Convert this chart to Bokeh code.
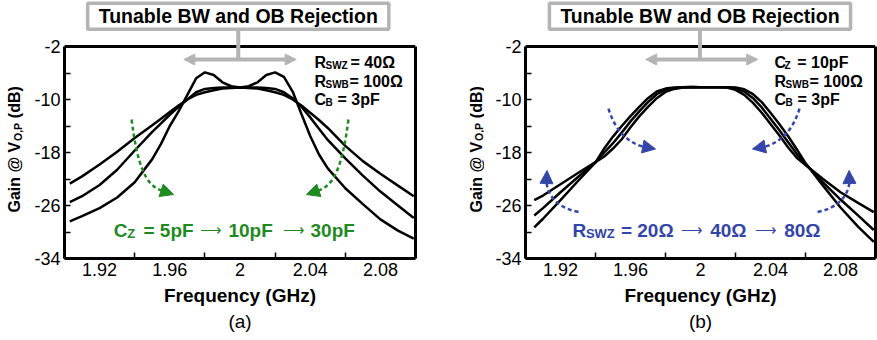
from math import pi

from bokeh.plotting import figure
from bokeh.layouts import row
from bokeh.models import (FixedTicker, Label, Arrow, NormalHead, Range1d,
                          LinearAxis, Span, Title)
from bokeh.embed import file_html
from bokeh.resources import INLINE

# ---------------------------------------------------------------- data
# (a) gain vs frequency for three values of C_Z (R_SWZ = 40 ohm)
freq_a = [1.903, 1.91, 1.92, 1.93, 1.94, 1.95, 1.955, 1.96, 1.965, 1.97, 1.975,
          1.98, 1.985, 1.99, 1.995, 2.0, 2.005, 2.01, 2.015, 2.02, 2.025, 2.03,
          2.035, 2.04, 2.045, 2.05, 2.06, 2.07, 2.08, 2.09, 2.099]
gain_cz_5pF = [-22.7, -21.6, -19.8, -17.9, -15.8, -13.9, -12.9, -11.9, -10.9, -10.0, -9.3,
               -8.9, -8.6, -8.35, -8.25, -8.2, -8.25, -8.35, -8.6, -8.9, -9.3, -10.0,
               -10.9, -12.0, -13.1, -14.3, -17.0, -19.3, -21.2, -23.0, -24.6]
gain_cz_10pF = [-25.5, -24.6, -22.9, -20.6, -17.7, -14.9, -13.6, -12.3, -11.1, -10.0, -8.9,
                -8.4, -8.25, -8.2, -8.2, -8.2, -8.2, -8.2, -8.25, -8.4, -8.9, -9.8,
                -11.1, -12.7, -14.4, -16.1, -18.9, -21.5, -23.9, -26.0, -27.9]
gain_cz_30pF = [-28.4, -27.6, -26.4, -24.8, -22.5, -19.0, -16.7, -14.0, -11.8, -9.3, -6.8,
                -5.9, -6.3, -7.4, -8.0, -8.2, -8.0, -7.4, -6.3, -5.9, -6.6, -8.8,
                -12.2, -15.5, -18.3, -20.4, -23.4, -25.8, -28.1, -29.8, -31.0]

# (b) gain vs frequency for three values of R_SWZ (C_Z = 10 pF)
freq_b = [1.905, 1.91, 1.92, 1.93, 1.94, 1.945, 1.95, 1.955, 1.96, 1.965, 1.97,
          1.975, 1.98, 1.985, 1.99, 1.995, 2.0, 2.005, 2.01, 2.015, 2.02, 2.025,
          2.03, 2.035, 2.04, 2.045, 2.05, 2.055, 2.06, 2.07, 2.08, 2.09, 2.099]
gain_rswz_20 = [-29.3, -28.0, -25.2, -22.3, -19.5, -17.4, -15.6, -14.0, -12.5, -11.1, -9.8,
                -8.8, -8.35, -8.2, -8.15, -8.1, -8.15, -8.15, -8.15, -8.15, -8.2, -8.45,
                -9.2, -10.4, -12.0, -13.7, -15.5, -17.5, -19.6, -23.0, -26.3, -29.2, -31.5]
gain_rswz_40 = [-27.5, -26.4, -24.0, -21.7, -19.47, -18.0, -16.6, -15.0, -13.3, -11.8, -10.4,
                -9.2, -8.5, -8.25, -8.15, -8.1, -8.15, -8.15, -8.15, -8.15, -8.3, -8.8,
                -9.8, -11.2, -12.9, -14.6, -16.4, -18.2, -19.75, -22.5, -25.1, -27.5, -29.7]
gain_rswz_80 = [-25.2, -24.5, -22.8, -21.1, -19.45, -18.6, -17.4, -16.0, -14.2, -12.55, -11.1,
                -9.8, -8.85, -8.4, -8.2, -8.15, -8.15, -8.15, -8.15, -8.2, -8.55, -9.3,
                -10.5, -12.0, -13.7, -15.4, -17.2, -18.8, -19.9, -22.0, -24.0, -25.6, -27.0]

# axis ticks
x_major = [1.92, 1.96, 2.0, 2.04, 2.08]
x_labels = ["1.92", "1.96", "2", "2.04", "2.08"]
x_minor = [1.90, 1.94, 1.98, 2.02, 2.06, 2.10]
y_major = [-34, -26, -18, -10, -2]
y_labels = ["-34", "-26", "-18", "-10", "-2"]
y_minor = [-30, -22, -14, -6]

# ---------------------------------------------------------------- style
FONT = "Liberation Sans"
GREEN = "#1f8a1f"
BLUE = "#3445a8"
GRAY = "#b4b4b4"
X_RANGE = (1.90, 2.10)
Y_RANGE = (-34, -2)
PX_PER_DB = 212 / (Y_RANGE[1] - Y_RANGE[0])
HEADROOM_DB = 46 / PX_PER_DB          # space above the plot box for the callout
Y_VIEW = (Y_RANGE[0], Y_RANGE[1] + HEADROOM_DB)
PAGE_H = 340


def make_panel(width, border_left, border_right):
    p = figure(width=width, height=PAGE_H,
               x_range=Range1d(*X_RANGE), y_range=Range1d(*Y_VIEW),
               output_backend="svg", toolbar_location=None,
               min_border_left=border_left, min_border_right=border_right,
               min_border_top=0, min_border_bottom=82)
    p.grid.visible = False
    p.background_fill_color = "white"
    p.border_fill_color = "white"
    p.outline_line_color = None

    xa = p.xaxis[0]
    xa.ticker = FixedTicker(ticks=x_major, minor_ticks=x_minor)
    xa.major_label_overrides = dict(zip(x_major, x_labels))
    xa.major_tick_in = 0
    xa.major_tick_out = 0
    xa.minor_tick_in = 6
    xa.minor_tick_out = 0
    xa.minor_tick_line_width = 1.5
    xa.axis_label = "Frequency (GHz)"
    xa.axis_label_text_font = FONT
    xa.axis_label_text_font_style = "bold"
    xa.axis_label_text_font_size = "19px"
    xa.axis_label_text_color = "black"
    xa.axis_label_standoff = 6

    ya = p.yaxis[0]
    ya.bounds = Y_RANGE
    ya.ticker = FixedTicker(ticks=y_major, minor_ticks=y_minor)
    ya.major_label_overrides = dict(zip(y_major, y_labels))
    ya.major_tick_in = 6
    ya.major_tick_out = 0
    ya.minor_tick_in = 6
    ya.minor_tick_out = 0
    ya.major_tick_line_width = 1.5
    ya.minor_tick_line_width = 1.5

    for ax in (xa, ya):
        ax.axis_line_width = 3
        ax.axis_line_color = "black"
        ax.major_label_text_font = FONT
        ax.major_label_text_font_size = "18px"
        ax.major_label_text_color = "black"
        ax.major_label_standoff = 4

    # right and top edges of the plot box
    right = LinearAxis(bounds=Y_RANGE, ticker=FixedTicker(ticks=[]),
                       major_tick_in=0, major_tick_out=0, minor_tick_in=0,
                       minor_tick_out=0, major_label_standoff=0,
                       axis_line_width=3, axis_line_color="black")
    p.add_layout(right, "right")
    p.add_layout(Span(location=Y_RANGE[1], dimension="width",
                      line_color="black", line_width=3))
    return p


def make_strip(width):
    # narrow canvas left of a panel that carries the rotated y title;
    # x in pixels, y shares the panel's dB scale
    s = figure(width=width, height=PAGE_H, x_range=Range1d(0, width),
               y_range=Range1d(*Y_VIEW), output_backend="svg",
               toolbar_location=None, x_axis_type=None, y_axis_type=None,
               min_border_left=0, min_border_right=0,
               min_border_top=0, min_border_bottom=82)
    s.grid.visible = False
    s.outline_line_color = None
    s.background_fill_color = "white"
    s.border_fill_color = "white"
    return s


def note(p, x, y, text, size, color="black", bold=True, align="left",
         baseline="middle", angle=0.0, **kw):
    p.add_layout(Label(x=x, y=y, text=text, text_font=FONT,
                       text_font_size=f"{size}px",
                       text_font_style="bold" if bold else "normal",
                       text_color=color, text_align=align,
                       text_baseline=baseline, angle=angle, **kw))


def rich(p, y, pieces, color="black", sub_drop=0.45):
    """pieces: (x, text, size, is_subscript)"""
    for x, text, size, is_sub in pieces:
        note(p, x, y - sub_drop if is_sub else y, text, size, color=color)


def banner(p, xc):
    # gray callout box, its stem and the double arrow
    note(p, xc, 2.55, "Tunable BW and OB Rejection", 19.5, align="center",
         background_fill_color="white", border_line_color=GRAY,
         border_line_width=3.5, padding=dict(left=11, right=11, top=2, bottom=2))
    p.add_layout(Arrow(end=None, x_start=xc, y_start=0.35, x_end=xc, y_end=-3.96,
                       line_color=GRAY, line_width=4))
    p.add_layout(Arrow(start=NormalHead(size=11, fill_color=GRAY, line_color=GRAY),
                       end=NormalHead(size=11, fill_color=GRAY, line_color=GRAY),
                       x_start=xc - 0.031, y_start=-3.96, x_end=xc + 0.033, y_end=-3.96,
                       line_color=GRAY, line_width=4))


def y_title(s, x):
    # "Gain @ V_O,P (dB)", reading upwards, subscript shifted to the right
    note(s, x, -27.06, "Gain @ V", 16, angle=pi / 2)
    note(s, x + 3, -16.26, "O,P", 10.5, angle=pi / 2)
    note(s, x, -12.82, "(dB)", 16, angle=pi / 2)


def dashed_arrow(p, color, p0, c0, c1, p1, tip):
    p.bezier(x0=[p0[0]], y0=[p0[1]], x1=[p1[0]], y1=[p1[1]],
             cx0=[c0[0]], cy0=[c0[1]], cx1=[c1[0]], cy1=[c1[1]],
             line_color=color, line_width=2.5, line_dash="4 3")
    p.add_layout(Arrow(end=NormalHead(size=13, fill_color=color, line_color=color),
                       x_start=p1[0], y_start=p1[1], x_end=tip[0], y_end=tip[1],
                       line_alpha=0))


def caption(p, text):
    p.add_layout(Title(text=text, align="center", text_font=FONT,
                       text_font_size="19px", text_font_style="normal",
                       text_color="black", standoff=0), "below")


# ---------------------------------------------------------------- panel (a)
sa = make_strip(30)
y_title(sa, 14)

pa = make_panel(407, 34, 22)
for g in (gain_cz_5pF, gain_cz_10pF, gain_cz_30pF):
    pa.line(freq_a, g, line_color="black", line_width=2.5)

banner(pa, 1.999)
rich(pa, -4.37, [(2.0425, "R", 16, False), (2.0487, "SWZ", 10, True), (2.063, "= 40Ω", 16, False)])
rich(pa, -7.28, [(2.0425, "R", 16, False), (2.0487, "SWB", 10, True), (2.0624, "= 100Ω", 16, False)])
rich(pa, -10.04, [(2.0425, "C", 16, False), (2.0487, "B", 10, True), (2.0556, "= 3pF", 16, False)])

rich(pa, -29.77, [(1.9281, "C", 19, False), (1.9357, "Z", 13, True), (1.945, "= 5pF", 19, False),
                  (1.9934, "10pF", 19, False), (2.0402, "30pF", 19, False)], color=GREEN)
note(pa, 1.9835, -29.6, "⟶", 15, color=GREEN, bold=False, align="center")
note(pa, 2.0305, -29.6, "⟶", 15, color=GREEN, bold=False, align="center")

dashed_arrow(pa, GREEN, (1.9382, -13.02), (1.9416, -19.96), (1.9462, -22.98),
             (1.9553, -23.74), (1.9621, -24.34))
dashed_arrow(pa, GREEN, (2.0618, -13.02), (2.0584, -19.96), (2.0538, -22.98),
             (2.0447, -23.74), (2.0379, -24.34))
caption(pa, "(a)")

# ---------------------------------------------------------------- panel (b)
sb = make_strip(47)
y_title(sb, 38.5)

pb = make_panel(393, 41, 2)
for g in (gain_rswz_20, gain_rswz_40, gain_rswz_80):
    pb.line(freq_b, g, line_color="black", line_width=2.5)

banner(pb, 1.9997)
rich(pb, -4.37, [(2.0423, "C", 16, False), (2.048, "Z", 10, True), (2.0553, "= 10pF", 16, False)])
rich(pb, -7.28, [(2.0423, "R", 16, False), (2.0486, "SWB", 10, True), (2.0623, "= 100Ω", 16, False)])
rich(pb, -10.04, [(2.0423, "C", 16, False), (2.0486, "B", 10, True), (2.0554, "= 3pF", 16, False)])

rich(pb, -29.77, [(1.9269, "R", 19, False), (1.9345, "SWZ", 13, True), (1.9545, "= 20Ω", 19, False),
                  (2.0055, "40Ω", 19, False), (2.0478, "80Ω", 19, False)], color=BLUE)
note(pb, 1.9954, -29.6, "⟶", 15, color=BLUE, bold=False, align="center")
note(pb, 2.0373, -29.6, "⟶", 15, color=BLUE, bold=False, align="center")

dashed_arrow(pb, BLUE, (1.9474, -11.36), (1.9509, -14.38), (1.9571, -16.34),
             (1.9669, -17.09), (1.9743, -17.47))
dashed_arrow(pb, BLUE, (2.0566, -11.36), (2.0531, -14.38), (2.0469, -16.34),
             (2.0371, -17.09), (2.0297, -17.47))
dashed_arrow(pb, BLUE, (1.9303, -26.98), (1.92, -26.45), (1.9131, -24.94),
             (1.912, -22.53), (1.9123, -20.72))
dashed_arrow(pb, BLUE, (2.0669, -26.98), (2.0771, -26.45), (2.084, -24.94),
             (2.0851, -22.53), (2.0849, -20.72))
caption(pb, "(b)")

layout = row(sa, pa, sb, pb)
open("out.html", "w").write(file_html(layout, INLINE))
